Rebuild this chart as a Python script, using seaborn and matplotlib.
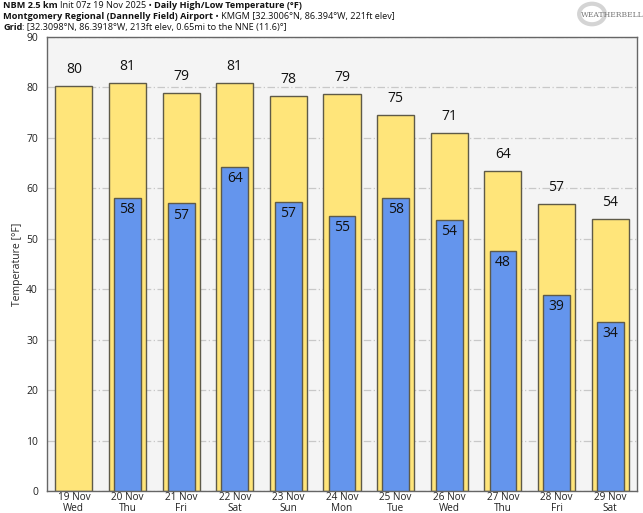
import numpy as np
import pandas as pd
import matplotlib
matplotlib.use("Agg")
import matplotlib.pyplot as plt
from matplotlib import font_manager
from matplotlib.patches import Circle
import seaborn as sns

# ── data ──────────────────────────────────────────────────────
days = ["19 Nov\nWed", "20 Nov\nThu", "21 Nov\nFri", "22 Nov\nSat", "23 Nov\nSun",
        "24 Nov\nMon", "25 Nov\nTue", "26 Nov\nWed", "27 Nov\nThu", "28 Nov\nFri",
        "29 Nov\nSat"]
highs = [80.3, 80.9, 78.8, 80.9, 78.3, 78.7, 74.6, 71.0, 63.5, 56.9, 54.0]
lows = [np.nan, 58.1, 57.0, 64.3, 57.2, 54.6, 58.1, 53.7, 47.5, 38.8, 33.6]
yticks = [0, 10, 20, 30, 40, 50, 60, 70, 80, 90]

df = pd.DataFrame({"day": days, "high": highs, "low": lows})

sns.set_style("white")
plt.rcParams["font.family"] = ["Open Sans", "DejaVu Sans"]

names = {f.name for f in font_manager.fontManager.ttflist}
narrow = "Liberation Sans Narrow" if "Liberation Sans Narrow" in names else "Open Sans"

fig = plt.figure(figsize=(6.43, 5.13), dpi=100)
ax = fig.add_axes([47 / 643, 1 - 491 / 513, 590 / 643, 454 / 513])
ax.set_facecolor("#f4f4f4")

edge = "#5e5a48"
sns.barplot(data=df, x="day", y="high", order=days, color="#ffe57a",
            saturation=1, width=0.69, edgecolor=edge, linewidth=1.0, ax=ax, zorder=2)
sns.barplot(data=df.dropna(), x="day", y="low", order=days, color="#6495ed",
            saturation=1, width=0.5, edgecolor=edge, linewidth=1.0, ax=ax, zorder=3)

for i, (h, l) in enumerate(zip(highs, lows)):
    ax.text(i, h + 1.8, f"{h:.0f}", ha="center", va="bottom", fontsize=10, color="#111111", zorder=4)
    if not np.isnan(l):
        ax.text(i, l - 0.8, f"{l:.0f}", ha="center", va="top", fontsize=10, color="#111111", zorder=4)

ax.set_xlim(-0.5, len(days) - 0.5)
ax.set_ylim(0, 90)
ax.set_yticks(yticks)
ax.set_xticks(range(len(days)))
ax.set_xticklabels(days, linespacing=0.9, family=narrow, fontsize=7.2)
ax.yaxis.grid(True, color="#c8c8c8", linestyle=(0, (6, 2, 1, 2)), linewidth=0.9, zorder=0)
ax.set_axisbelow(True)
ax.set_xlabel("")
ax.set_ylabel("Temperature [°F]", fontsize=7.5, labelpad=2)
ax.tick_params(axis="y", labelsize=7.5, length=3, color="#555555", colors="#222222")
ax.tick_params(axis="x", length=0, pad=1.0, colors="#222222")
for s in ax.spines.values():
    s.set_color("#666666")
    s.set_linewidth(1.0)

# ── header lines (mixed bold / regular) ───────────────────────
def header(y, parts):
    fig.canvas.draw()
    r = fig.canvas.get_renderer()
    x = 3 / 643
    for txt, bold in parts:
        t = fig.text(x, y, txt, fontsize=6.6, fontweight="bold" if bold else "normal",
                     family=narrow, ha="left", va="top", color="#111111")
        bb = t.get_window_extent(renderer=r)
        x += bb.width / fig.bbox.width

header(1 - 1 / 513, [("NBM 2.5 km ", True), ("Init 07z 19 Nov 2025 • ", False),
                     ("Daily High/Low Temperature (°F)", True)])
header(1 - 12 / 513, [("Montgomery Regional (Dannelly Field) Airport", True),
                      (" • KMGM [32.3006°N, 86.394°W, 221ft elev]", False)])
header(1 - 23 / 513, [("Grid", True),
                      (": [32.3098°N, 86.3918°W, 213ft elev, 0.65mi to the NNE (11.6)°]", False)])

# logo: grey swirl ring + name
fig.patches.append(Circle((592 / 643, 1 - 14 / 513), 0.02, transform=fig.transFigure,
                          facecolor="none", edgecolor="#d4d4d4", linewidth=3))
fig.text(612 / 643, 1 - 15 / 513, "WEATHERBELL", fontsize=5.5, family="DejaVu Serif",
         color="#777777", ha="center", va="center")

fig.savefig("out.png", dpi=100)
